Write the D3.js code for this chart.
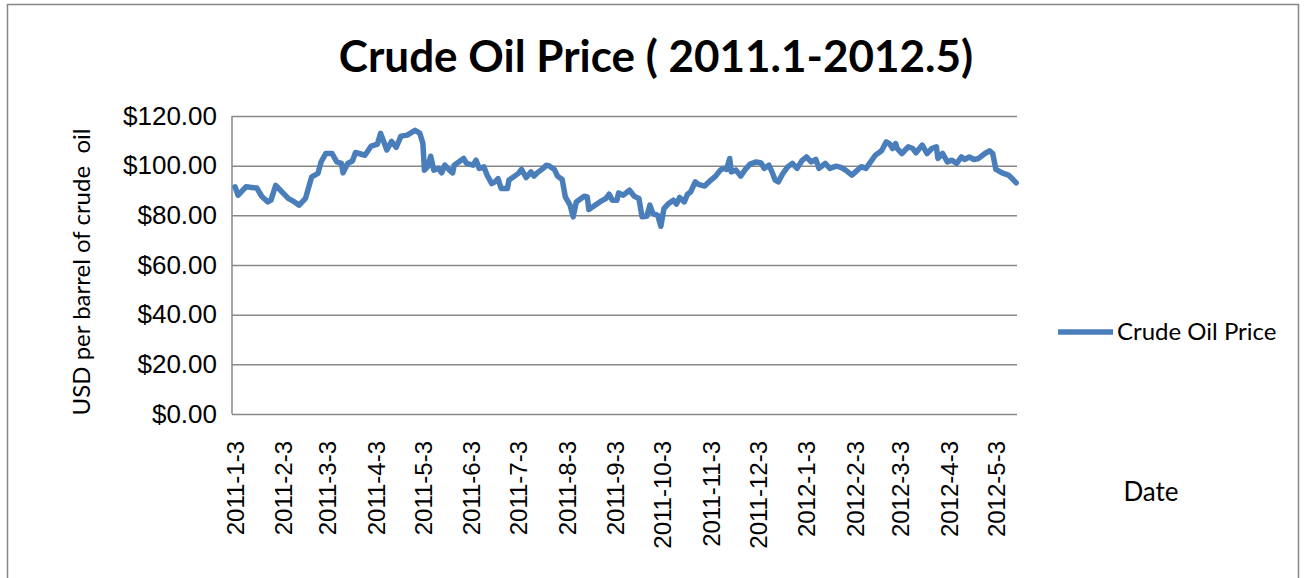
<html>
<head>
<script src="https://d3js.org/d3.v7.min.js"></script>
<style>
    body { margin: 0; background: #fff; }
    svg { font-family: Lato, "Open Sans", sans-serif; }
    .grid line { stroke: #888; stroke-width: 1.5; }
    .grid path { display: none; }
    .ylab text { font-size: 26px; fill: #000; }
    .xlab text { font-size: 24px; fill: #000; }
    .xlab path { display: none; }
</style>
</head>
<body>
<div id="chart"></div>
<script>
    // crude oil price (date, USD per barrel)
    const dates = [
        "2011-01-03", "2011-01-05", "2011-01-10", "2011-01-17", "2011-01-20", "2011-01-24", "2011-01-26", "2011-01-29",
        "2011-02-02", "2011-02-06", "2011-02-10", "2011-02-13", "2011-02-17", "2011-02-21", "2011-02-25", "2011-02-27",
        "2011-03-02", "2011-03-06", "2011-03-09", "2011-03-12", "2011-03-13", "2011-03-16", "2011-03-19", "2011-03-21",
        "2011-03-27", "2011-03-31", "2011-04-04", "2011-04-06", "2011-04-10", "2011-04-13", "2011-04-16", "2011-04-19",
        "2011-04-23", "2011-04-28", "2011-05-01", "2011-05-03", "2011-05-04", "2011-05-06", "2011-05-08", "2011-05-10",
        "2011-05-13", "2011-05-15", "2011-05-17", "2011-05-20", "2011-05-22", "2011-05-23", "2011-05-29", "2011-05-31",
        "2011-06-04", "2011-06-06", "2011-06-08", "2011-06-11", "2011-06-13", "2011-06-16", "2011-06-18", "2011-06-20",
        "2011-06-22", "2011-06-26", "2011-06-27", "2011-06-30", "2011-07-03", "2011-07-05", "2011-07-08", "2011-07-11",
        "2011-07-13", "2011-07-15", "2011-07-18", "2011-07-21", "2011-07-23", "2011-07-26", "2011-07-28", "2011-07-31",
        "2011-08-02", "2011-08-05", "2011-08-07", "2011-08-09", "2011-08-14", "2011-08-16", "2011-08-17", "2011-08-21",
        "2011-08-24", "2011-08-28", "2011-08-30", "2011-09-01", "2011-09-04", "2011-09-05", "2011-09-08", "2011-09-12",
        "2011-09-15", "2011-09-18", "2011-09-20", "2011-09-23", "2011-09-25", "2011-09-27", "2011-09-30", "2011-10-02",
        "2011-10-04", "2011-10-07", "2011-10-10", "2011-10-12", "2011-10-14", "2011-10-17", "2011-10-19", "2011-10-21",
        "2011-10-24", "2011-10-26", "2011-10-30", "2011-11-03", "2011-11-06", "2011-11-09", "2011-11-11", "2011-11-13",
        "2011-11-15", "2011-11-16", "2011-11-19", "2011-11-22", "2011-11-25", "2011-11-28", "2011-12-02", "2011-12-05",
        "2011-12-07", "2011-12-10", "2011-12-12", "2011-12-14", "2011-12-16", "2011-12-19", "2011-12-22", "2011-12-25",
        "2011-12-28", "2011-12-31", "2012-01-03", "2012-01-06", "2012-01-09", "2012-01-11", "2012-01-15", "2012-01-18",
        "2012-01-22", "2012-01-25", "2012-01-28", "2012-02-01", "2012-02-03", "2012-02-07", "2012-02-10", "2012-02-13",
        "2012-02-16", "2012-02-20", "2012-02-23", "2012-02-25", "2012-02-27", "2012-02-29", "2012-03-01", "2012-03-04",
        "2012-03-08", "2012-03-11", "2012-03-13", "2012-03-17", "2012-03-20", "2012-03-23", "2012-03-26", "2012-03-27",
        "2012-03-30", "2012-04-02", "2012-04-05", "2012-04-08", "2012-04-11", "2012-04-13", "2012-04-16", "2012-04-19",
        "2012-04-22", "2012-04-26", "2012-04-29", "2012-05-01", "2012-05-03", "2012-05-07", "2012-05-11", "2012-05-14",
        "2012-05-16"
    ];
    const prices = [
        91.5, 88.1, 91.5, 91.0, 87.7, 85.4, 86.1, 92.1,
        89.4, 86.8, 85.4, 84.1, 86.8, 95.5, 96.9, 101.5,
        104.9, 104.9, 101.5, 100.9, 97.1, 100.9, 101.9, 105.3,
        104.2, 107.9, 108.7, 113.0, 106.3, 109.8, 107.4, 111.9,
        112.3, 114.2, 113.1, 109.0, 98.2, 99.5, 103.8, 98.2,
        98.9, 97.1, 100.2, 98.2, 97.1, 100.2, 102.9, 100.9,
        100.2, 102.2, 98.9, 99.5, 96.2, 92.8, 93.5, 94.8,
        90.8, 90.8, 94.2, 95.5, 96.9, 98.5, 95.2, 97.5,
        95.8, 97.1, 98.5, 100.2, 99.8, 98.5, 95.8, 94.4,
        87.4, 84.1, 79.4, 85.4, 87.7, 87.4, 82.3, 84.1,
        85.4, 86.8, 88.5, 86.1, 86.1, 89.0, 88.1, 90.1,
        87.7, 86.8, 79.4, 79.6, 84.1, 80.7, 80.0, 75.6,
        82.7, 84.8, 86.1, 84.5, 87.2, 85.4, 88.5, 89.4,
        93.5, 92.5, 91.8, 94.2, 95.8, 98.2, 98.9, 98.5,
        102.9, 97.5, 98.2, 95.8, 98.5, 100.6, 101.5, 101.1,
        98.9, 100.2, 97.5, 94.2, 93.5, 96.9, 99.5, 100.9,
        98.9, 101.9, 103.5, 101.5, 102.5, 98.9, 100.9, 98.9,
        99.8, 99.3, 98.2, 96.2, 97.3, 99.6, 98.9, 101.5,
        104.2, 106.0, 109.6, 108.9, 106.9, 108.9, 106.9, 104.9,
        107.6, 106.9, 105.2, 108.3, 104.9, 106.9, 107.6, 102.9,
        104.9, 101.5, 102.2, 100.9, 103.5, 102.5, 103.5, 102.5,
        102.9, 104.9, 106.0, 104.9, 98.5, 97.1, 96.2, 94.4,
        93.1
    ];
    const xTickLabels = [
        "2011-1-3", "2011-2-3", "2011-3-3", "2011-4-3", "2011-5-3", "2011-6-3", "2011-7-3", "2011-8-3", "2011-9-3",
        "2011-10-3", "2011-11-3", "2011-12-3", "2012-1-3", "2012-2-3", "2012-3-3", "2012-4-3", "2012-5-3"
    ];
    const yTicks = [0, 20, 40, 60, 80, 100, 120];

    const width = 1305;
    const height = 578;
    const plot = { left: 232, right: 1017, top: 116, bottom: 414 };

    const parseDay = d3.utcParse('%Y-%m-%d');
    const parseTick = d3.utcParse('%Y-%-m-%-d');
    const data = dates.map((d, i) => ({ date: parseDay(d), price: prices[i] }));

    const svg = d3.select('#chart').append('svg')
        .attr('width', width)
        .attr('height', height);

    // outer chart border
    svg.append('rect')
        .attr('x', 7.5).attr('y', 4.5)
        .attr('width', 1291).attr('height', 620)
        .attr('fill', 'none')
        .attr('stroke', '#868686')
        .attr('stroke-width', 1.5);

    const xScale = d3.scaleUtc()
        .domain([Date.UTC(2011, 0, 1, 2), Date.UTC(2012, 4, 16, 12)])
        .range([plot.left, plot.right]);
    const yScale = d3.scaleLinear()
        .domain([0, 120])
        .range([plot.bottom, plot.top]);

    // gridlines
    svg.append('g')
        .attr('class', 'grid')
        .attr('transform', `translate(${plot.left},0)`)
        .call(d3.axisLeft(yScale).tickValues(yTicks).tickSize(-(plot.right - plot.left)).tickFormat(''));

    // axis line
    svg.append('line')
        .attr('x1', plot.left).attr('x2', plot.left)
        .attr('y1', plot.top).attr('y2', plot.bottom)
        .attr('stroke', '#888').attr('stroke-width', 1.5);

    // y tick labels
    svg.append('g')
        .attr('class', 'ylab')
        .attr('transform', `translate(${plot.left - 12},0)`)
        .call(d3.axisLeft(yScale).tickValues(yTicks).tickSize(0).tickFormat(d => '$' + d3.format('.2f')(d)))
        .call(g => g.select('.domain').remove());

    // x tick labels, rotated
    svg.append('g')
        .attr('class', 'xlab')
        .attr('transform', `translate(0,${plot.bottom})`)
        .call(d3.axisBottom(xScale).tickValues(xTickLabels.map(parseTick)).tickSize(0).tickFormat(d3.utcFormat('%Y-%-m-%-d')))
        .selectAll('text')
        .attr('transform', 'rotate(-90)')
        .attr('text-anchor', 'end')
        .attr('x', -27)
        .attr('y', 0)
        .attr('dy', '0.35em');

    // the price line
    const line = d3.line()
        .x(d => xScale(d.date))
        .y(d => yScale(d.price));
    svg.append('path')
        .datum(data)
        .attr('fill', 'none')
        .attr('stroke', '#4a7ebb')
        .attr('stroke-width', 5.5)
        .attr('stroke-linejoin', 'round')
        .attr('stroke-linecap', 'round')
        .attr('d', line);

    // title
    svg.append('text')
        .attr('x', 656)
        .attr('y', 72)
        .attr('text-anchor', 'middle')
        .style('font-size', '44px')
        .style('font-weight', 'bold')
        .text('Crude Oil Price ( 2011.1-2012.5)');

    // y axis title
    svg.append('text')
        .attr('transform', 'rotate(-90)')
        .attr('x', -272)
        .attr('y', 82)
        .attr('dy', '0.35em')
        .attr('text-anchor', 'middle')
        .style('font-size', '24px')
        .style('white-space', 'pre')
        .text('USD per barrel of crude  oil');

    // x axis title
    svg.append('text')
        .attr('x', 1151)
        .attr('y', 492)
        .attr('dy', '0.35em')
        .attr('text-anchor', 'middle')
        .style('font-size', '26px')
        .text('Date');

    // legend
    const legend = svg.append('g').attr('transform', 'translate(1058,332)');
    legend.append('line')
        .attr('x1', 0).attr('x2', 55)
        .attr('stroke', '#4a7ebb')
        .attr('stroke-width', 5.5);
    legend.append('text')
        .attr('x', 59)
        .attr('dy', '0.35em')
        .style('font-size', '24px')
        .text('Crude Oil Price');
</script>
</body>
</html>
